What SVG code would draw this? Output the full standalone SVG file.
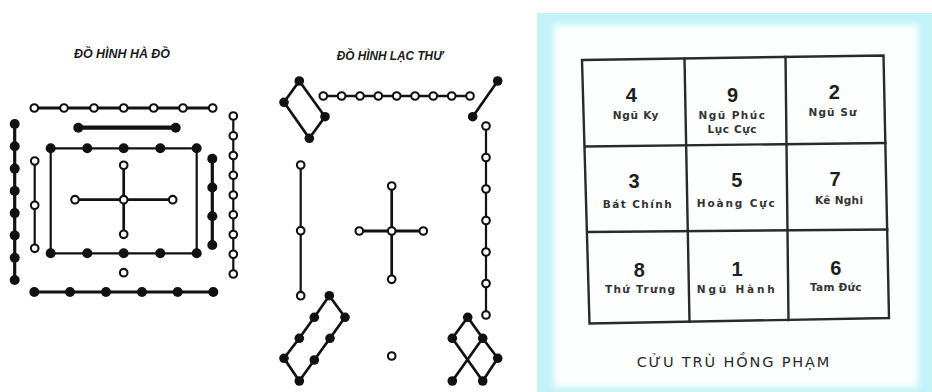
<svg xmlns="http://www.w3.org/2000/svg" width="932" height="392" viewBox="0 0 932 392">
  <defs>
    <style>
      .title { font-family: "Liberation Sans", Arial, sans-serif; font-size: 12.5px; font-weight: bold; font-style: italic; fill: #1a1a1a; }
      .ln { stroke: #111; fill: none; stroke-linecap: round; stroke-linejoin: round; }
      .w2 { stroke-width: 2.2; }
      .w25 { stroke-width: 2.7; }
      .w3 { stroke-width: 3.2; }
      .w4 { stroke-width: 4.2; }
      .yin { fill: #111; }
      .yang { fill: #fff; stroke: #111; stroke-width: 2.1; }
      .grid { stroke: #2a2a2a; stroke-width: 2.4; fill: none; stroke-linecap: square; }
      .num { font-family: "Liberation Sans", Arial, sans-serif; font-size: 20px; font-weight: bold; fill: #1e1e1e; text-anchor: middle; }
      .lbl { font-family: "DejaVu Sans", "Liberation Sans", sans-serif; font-size: 10.5px; font-weight: bold; fill: #333; text-anchor: middle; }
      .cap { font-family: "DejaVu Sans", "Liberation Sans", sans-serif; font-size: 14.5px; fill: #2a2a2a; text-anchor: middle; }
    </style>
    <filter id="soft" x="-5%" y="-5%" width="110%" height="110%">
      <feGaussianBlur stdDeviation="3"/>
    </filter>
  </defs>

  <rect width="932" height="392" fill="#fff"/>

  <!-- ===== Hà Đồ ===== -->
  <text class="title" x="74" y="58" textLength="96" lengthAdjust="spacingAndGlyphs">ĐỒ HÌNH HÀ ĐỒ</text>

  <g id="ha-do-connectors">
    <line class="ln w3" x1="34.3" y1="108" x2="212.7" y2="108"/>
    <line class="ln w4" x1="78.3" y1="127.7" x2="175.7" y2="127.7"/>
    <rect class="ln w2" x="50.7" y="148.3" width="146" height="105"/>
    <line class="ln w2" x1="34.7" y1="161" x2="34.7" y2="248.3"/>
    <line class="ln w25" x1="123.7" y1="165.3" x2="123.7" y2="234.3"/>
    <line class="ln w25" x1="75" y1="199.7" x2="172.7" y2="199.7"/>
    <line class="ln w3" x1="14.7" y1="124" x2="14.7" y2="280"/>
    <line class="ln w3" x1="212.3" y1="158.7" x2="212.3" y2="245"/>
    <line class="ln w2" x1="233.3" y1="116" x2="233.3" y2="274"/>
    <line class="ln w3" x1="34.3" y1="292" x2="213.3" y2="292"/>
  </g>

  <g id="ha-do-top-7">
    <circle class="yang" cx="34.3" cy="108" r="3.8"/>
    <circle class="yang" cx="64" cy="108" r="3.8"/>
    <circle class="yang" cx="94" cy="108" r="3.8"/>
    <circle class="yang" cx="123.7" cy="108" r="3.8"/>
    <circle class="yang" cx="153.7" cy="108" r="3.8"/>
    <circle class="yang" cx="183" cy="108" r="3.8"/>
    <circle class="yang" cx="212.7" cy="108" r="3.8"/>
  </g>
  <g id="ha-do-top-2">
    <circle class="yin" cx="78.3" cy="127.7" r="5"/>
    <circle class="yin" cx="175.7" cy="127.7" r="5"/>
  </g>
  <g id="ha-do-ten">
    <circle class="yin" cx="50.7" cy="148.3" r="5"/>
    <circle class="yin" cx="87.3" cy="148.3" r="5"/>
    <circle class="yin" cx="123.7" cy="148.3" r="5"/>
    <circle class="yin" cx="160.3" cy="148.3" r="5"/>
    <circle class="yin" cx="196.7" cy="148.3" r="5"/>
    <circle class="yin" cx="50.7" cy="253.3" r="5"/>
    <circle class="yin" cx="87.3" cy="253.3" r="5"/>
    <circle class="yin" cx="123.7" cy="253.3" r="5"/>
    <circle class="yin" cx="160.3" cy="253.3" r="5"/>
    <circle class="yin" cx="196.7" cy="253.3" r="5"/>
  </g>
  <g id="ha-do-left-3">
    <circle class="yang" cx="34.7" cy="161" r="3.8"/>
    <circle class="yang" cx="34.7" cy="205.3" r="3.8"/>
    <circle class="yang" cx="34.7" cy="248.3" r="3.8"/>
  </g>
  <g id="ha-do-center-5">
    <circle class="yang" cx="123.7" cy="165.3" r="3.8"/>
    <circle class="yang" cx="75" cy="199.7" r="3.8"/>
    <circle class="yang" cx="123.7" cy="199.7" r="3.8"/>
    <circle class="yang" cx="172.7" cy="199.7" r="3.8"/>
    <circle class="yang" cx="123.7" cy="234.3" r="3.8"/>
  </g>
  <g id="ha-do-bottom-1">
    <circle class="yang" cx="123.7" cy="272.7" r="3.8"/>
  </g>
  <g id="ha-do-left-8">
    <circle class="yin" cx="14.7" cy="124" r="5"/>
    <circle class="yin" cx="14.7" cy="146.3" r="5"/>
    <circle class="yin" cx="14.7" cy="168.6" r="5"/>
    <circle class="yin" cx="14.7" cy="190.9" r="5"/>
    <circle class="yin" cx="14.7" cy="213.1" r="5"/>
    <circle class="yin" cx="14.7" cy="235.4" r="5"/>
    <circle class="yin" cx="14.7" cy="257.7" r="5"/>
    <circle class="yin" cx="14.7" cy="280" r="5"/>
  </g>
  <g id="ha-do-right-4">
    <circle class="yin" cx="212.3" cy="158.7" r="5"/>
    <circle class="yin" cx="212.3" cy="187.5" r="5"/>
    <circle class="yin" cx="212.3" cy="216.2" r="5"/>
    <circle class="yin" cx="212.3" cy="245" r="5"/>
  </g>
  <g id="ha-do-right-9">
    <circle class="yang" cx="233.3" cy="116" r="3.8"/>
    <circle class="yang" cx="233.3" cy="135.75" r="3.8"/>
    <circle class="yang" cx="233.3" cy="155.5" r="3.8"/>
    <circle class="yang" cx="233.3" cy="175.25" r="3.8"/>
    <circle class="yang" cx="233.3" cy="195" r="3.8"/>
    <circle class="yang" cx="233.3" cy="214.75" r="3.8"/>
    <circle class="yang" cx="233.3" cy="234.5" r="3.8"/>
    <circle class="yang" cx="233.3" cy="254.25" r="3.8"/>
    <circle class="yang" cx="233.3" cy="274" r="3.8"/>
  </g>
  <g id="ha-do-bottom-6">
    <circle class="yin" cx="34.3" cy="292" r="5"/>
    <circle class="yin" cx="70" cy="292" r="5"/>
    <circle class="yin" cx="106" cy="292" r="5"/>
    <circle class="yin" cx="142" cy="292" r="5"/>
    <circle class="yin" cx="177.7" cy="292" r="5"/>
    <circle class="yin" cx="213.3" cy="292" r="5"/>
  </g>

  <!-- ===== Lạc Thư ===== -->
  <text class="title" x="336.7" y="59.5" textLength="106" lengthAdjust="spacingAndGlyphs">ĐỒ HÌNH LẠC THƯ</text>

  <g id="lac-thu-connectors">
    <polygon class="ln w25" points="299.3,81 284,102.3 309.3,138.3 325,116.7"/>
    <line class="ln w25" x1="323.3" y1="96" x2="470" y2="96"/>
    <line class="ln w25" x1="497.7" y1="81" x2="472.7" y2="116.7"/>
    <line class="ln w2" x1="486" y1="126" x2="486" y2="315"/>
    <line class="ln w2" x1="300.7" y1="165" x2="300.7" y2="295.7"/>
    <line class="ln w25" x1="391.7" y1="186" x2="391.7" y2="279.3"/>
    <line class="ln w3" x1="359.3" y1="231" x2="423.3" y2="231"/>
    <polygon class="ln w25" points="329.3,295.7 345,317.3 330,338.3 314.3,360 299.3,381 284,358.3 299.3,338.3 314.3,317.3"/>
    <polyline class="ln w25" points="452.3,338.3 467.7,317.3 482.7,338.3 497.7,358.3 482.7,381"/>
    <line class="ln w25" x1="452.3" y1="338.3" x2="482.7" y2="381"/>
    <line class="ln w25" x1="482.7" y1="338.3" x2="452.3" y2="381"/>
  </g>

  <g id="lac-thu-4">
    <circle class="yin" cx="299.3" cy="81" r="4.8"/>
    <circle class="yin" cx="284" cy="102.3" r="4.8"/>
    <circle class="yin" cx="309.3" cy="138.3" r="4.8"/>
    <circle class="yin" cx="325" cy="116.7" r="4.8"/>
  </g>
  <g id="lac-thu-9">
    <circle class="yang" cx="323.3" cy="96" r="3.8"/>
    <circle class="yang" cx="341.6" cy="96" r="3.8"/>
    <circle class="yang" cx="360" cy="96" r="3.8"/>
    <circle class="yang" cx="378.3" cy="96" r="3.8"/>
    <circle class="yang" cx="396.7" cy="96" r="3.8"/>
    <circle class="yang" cx="415" cy="96" r="3.8"/>
    <circle class="yang" cx="433.3" cy="96" r="3.8"/>
    <circle class="yang" cx="451.7" cy="96" r="3.8"/>
    <circle class="yang" cx="470" cy="96" r="3.8"/>
  </g>
  <g id="lac-thu-2">
    <circle class="yin" cx="497.7" cy="81" r="4.8"/>
    <circle class="yin" cx="472.7" cy="116.7" r="4.8"/>
  </g>
  <g id="lac-thu-7">
    <circle class="yang" cx="486" cy="126" r="3.8"/>
    <circle class="yang" cx="486" cy="157.5" r="3.8"/>
    <circle class="yang" cx="486" cy="189" r="3.8"/>
    <circle class="yang" cx="486" cy="220.5" r="3.8"/>
    <circle class="yang" cx="486" cy="252" r="3.8"/>
    <circle class="yang" cx="486" cy="283.5" r="3.8"/>
    <circle class="yang" cx="486" cy="315" r="3.8"/>
  </g>
  <g id="lac-thu-3">
    <circle class="yang" cx="300.7" cy="165" r="3.8"/>
    <circle class="yang" cx="300.7" cy="230.7" r="3.8"/>
    <circle class="yang" cx="300.7" cy="295.7" r="3.8"/>
  </g>
  <g id="lac-thu-5">
    <circle class="yang" cx="391.7" cy="186" r="3.8"/>
    <circle class="yang" cx="359.3" cy="231" r="3.8"/>
    <circle class="yang" cx="391.7" cy="231" r="3.8"/>
    <circle class="yang" cx="423.3" cy="231" r="3.8"/>
    <circle class="yang" cx="391.7" cy="279.3" r="3.8"/>
  </g>
  <g id="lac-thu-1">
    <circle class="yang" cx="391.7" cy="356" r="3.8"/>
  </g>
  <g id="lac-thu-8">
    <circle class="yin" cx="329.3" cy="295.7" r="4.8"/>
    <circle class="yin" cx="345" cy="317.3" r="4.8"/>
    <circle class="yin" cx="330" cy="338.3" r="4.8"/>
    <circle class="yin" cx="314.3" cy="360" r="4.8"/>
    <circle class="yin" cx="299.3" cy="381" r="4.8"/>
    <circle class="yin" cx="284" cy="358.3" r="4.8"/>
    <circle class="yin" cx="299.3" cy="338.3" r="4.8"/>
    <circle class="yin" cx="314.3" cy="317.3" r="4.8"/>
  </g>
  <g id="lac-thu-6">
    <circle class="yin" cx="467.7" cy="317.3" r="4.8"/>
    <circle class="yin" cx="452.3" cy="338.3" r="4.8"/>
    <circle class="yin" cx="482.7" cy="338.3" r="4.8"/>
    <circle class="yin" cx="497.7" cy="358.3" r="4.8"/>
    <circle class="yin" cx="452.3" cy="381" r="4.8"/>
    <circle class="yin" cx="482.7" cy="381" r="4.8"/>
  </g>

  <!-- ===== Cửu Trù Hồng Phạm panel ===== -->
  <g id="panel">
    <rect x="537" y="13" width="395" height="379" fill="#c3f3f7"/>
    <rect x="554" y="25" width="364" height="362" fill="#fdfefe" filter="url(#soft)"/>
  </g>

  <g id="grid-lines">
    <polygon class="grid" points="582,60 883.5,55.5 889,318 589.5,323.5"/>
    <line class="grid" x1="684.5" y1="58.5" x2="689.5" y2="321.5"/>
    <line class="grid" x1="785.5" y1="57" x2="788.5" y2="320"/>
    <line class="grid" x1="585" y1="146.5" x2="885.5" y2="143"/>
    <line class="grid" x1="587.5" y1="232" x2="887.3" y2="229.5"/>
  </g>

  <g id="cell-4">
    <text class="num" x="631.2" y="101.5">4</text>
    <text class="lbl" x="635.5" y="118.5" textLength="45.5">Ngũ Ky</text>
  </g>
  <g id="cell-9">
    <text class="num" x="732.5" y="101.5">9</text>
    <text class="lbl" x="731.7" y="118.5" textLength="66.5">Ngũ Phúc</text>
    <text class="lbl" x="732" y="133" textLength="49">Lục Cực</text>
  </g>
  <g id="cell-2">
    <text class="num" x="834.2" y="98.5">2</text>
    <text class="lbl" x="832.5" y="115.5" textLength="48">Ngũ Sư</text>
  </g>
  <g id="cell-3">
    <text class="num" x="634" y="188.3">3</text>
    <text class="lbl" x="637.2" y="207.5" textLength="69">Bát Chính</text>
  </g>
  <g id="cell-5">
    <text class="num" x="736.7" y="187.3">5</text>
    <text class="lbl" x="735.8" y="206.5" textLength="78">Hoàng Cực</text>
  </g>
  <g id="cell-7">
    <text class="num" x="835" y="186">7</text>
    <text class="lbl" x="839" y="204" textLength="48">Kê Nghi</text>
  </g>
  <g id="cell-8">
    <text class="num" x="639.2" y="276.7">8</text>
    <text class="lbl" x="640" y="293" textLength="70">Thứ Trưng</text>
  </g>
  <g id="cell-1">
    <text class="num" x="737" y="276">1</text>
    <text class="lbl" x="735.8" y="292.5" textLength="78">Ngũ Hành</text>
  </g>
  <g id="cell-6">
    <text class="num" x="835.8" y="275">6</text>
    <text class="lbl" x="835.8" y="291" textLength="51.5">Tam Đức</text>
  </g>

  <text class="cap" x="733" y="366.5" textLength="192.7">CỬU TRÙ HỒNG PHẠM</text>
</svg>
